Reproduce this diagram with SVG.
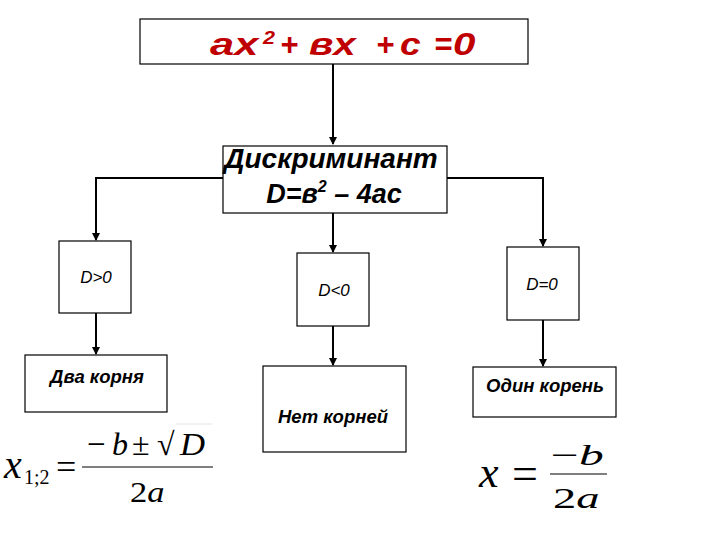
<svg xmlns="http://www.w3.org/2000/svg" width="720" height="540" viewBox="0 0 720 540">
<defs>
<marker id="ah" markerWidth="8" markerHeight="8" refX="7" refY="4" orient="auto" markerUnits="userSpaceOnUse">
<path d="M0,0 L8,4 L0,8 Z" fill="#000"/>
</marker>
<style>
.box{fill:#fff;stroke:#000;stroke-width:1.2}
.lbl{font-family:"Liberation Sans",Arial,sans-serif;font-style:italic;font-weight:bold;fill:#000}
.sm{font-family:"Liberation Sans",Arial,sans-serif;font-style:italic;font-weight:normal;fill:#000;font-size:17px}
.top{font-family:"Liberation Sans",Arial,sans-serif;font-style:italic;font-weight:bold;fill:#c00000;font-size:31px}
.conn{fill:none;stroke:#000;stroke-width:2}
.m{font-family:"Liberation Serif","Times New Roman",serif;fill:#000}
.i{font-style:italic}
</style>
</defs>
<rect width="720" height="540" fill="#fff"/>
<g id="connectors">
<path class="conn" d="M333,64 V144" marker-end="url(#ah)"/>
<path class="conn" d="M223,178 H96 V240" marker-end="url(#ah)"/>
<path class="conn" d="M447,178 H543 V246" marker-end="url(#ah)"/>
<path class="conn" d="M333,213 V252" marker-end="url(#ah)"/>
<path class="conn" d="M96,313 V354" marker-end="url(#ah)"/>
<path class="conn" d="M333,326 V365" marker-end="url(#ah)"/>
<path class="conn" d="M543,320 V366" marker-end="url(#ah)"/>
</g>
<g id="equation">
<rect class="box" x="140" y="19" width="388" height="45"/>
<text class="top" transform="translate(210,55) scale(1.4,1)">ax</text>
<text class="top" transform="translate(263,44) scale(1.2,1)" style="font-size:18px">2</text>
<text class="top" transform="translate(280,55)">+</text>
<text class="top" transform="translate(309,55) scale(1.3,1)">вx</text>
<text class="top" transform="translate(376,55)">+</text>
<text class="top" transform="translate(400,55) scale(1.2,1)">c</text>
<text class="top" transform="translate(434,55)">=</text>
<text class="top" transform="translate(453,55) scale(1.3,1)">0</text>
</g>
<g id="discriminant">
<rect class="box" x="223" y="146" width="224" height="67"/>
<text class="lbl" x="331" y="168" text-anchor="middle" font-size="28">Дискриминант</text>
<text class="lbl" x="334" y="203" text-anchor="middle" font-size="27">D=в<tspan font-size="16" dy="-11">2</tspan><tspan dy="11"> – 4ас</tspan></text>
</g>
<g id="d-positive">
<rect class="box" x="59" y="241" width="72" height="72"/>
<text class="sm" x="96" y="283" text-anchor="middle">D&gt;0</text>
</g>
<g id="d-negative">
<rect class="box" x="297" y="253" width="72" height="73"/>
<text class="sm" x="334" y="296" text-anchor="middle">D&lt;0</text>
</g>
<g id="d-zero">
<rect class="box" x="507" y="247" width="72" height="73"/>
<text class="sm" x="542" y="290" text-anchor="middle">D=0</text>
</g>
<g id="two-roots">
<rect class="box" x="25" y="355" width="142" height="57"/>
<text class="lbl" x="97" y="383" text-anchor="middle" font-size="18.5">Два корня</text>
</g>
<g id="no-roots">
<rect class="box" x="263" y="366" width="143" height="86"/>
<text class="lbl" x="333" y="423" text-anchor="middle" font-size="18.5">Нет корней</text>
</g>
<g id="one-root">
<rect class="box" x="473" y="367" width="143" height="50"/>
<text class="lbl" x="545" y="392" text-anchor="middle" font-size="18.5">Один корень</text>
</g>
<g id="formula-two">
<text class="m i" x="4" y="478" font-size="40">x</text>
<text class="m" x="24" y="484" font-size="20">1;2</text>
<text class="m" x="56" y="479" font-size="36">=</text>
<line x1="82" y1="467" x2="213" y2="467" stroke="#555" stroke-width="1.3"/>
<text class="m" x="87" y="455" font-size="33">−</text>
<text class="m i" x="112" y="455" font-size="32">b</text>
<text class="m" x="132" y="455" font-size="32">±</text>
<text class="m" x="157" y="455" font-size="32" fill="#ccc">√</text>
<line x1="176" y1="424" x2="212" y2="424" stroke="#e4e4e4" stroke-width="1"/>
<text class="m i" transform="translate(180,455) scale(1.12,1)" font-size="31">D</text>
<text class="m" transform="translate(130,502) scale(1.15,1)" font-size="30">2<tspan class="i">a</tspan></text>
</g>
<g id="formula-one">
<text class="m i" x="479" y="487" font-size="44">x</text>
<text class="m" x="512" y="489" font-size="46">=</text>
<line x1="550" y1="474" x2="607" y2="474" stroke="#555" stroke-width="1.3"/>
<text class="m" transform="translate(551,465) scale(1.65,1)" font-size="30">−<tspan class="i">b</tspan></text>
<text class="m" transform="translate(553,508) scale(1.55,1)" font-size="30">2<tspan class="i">a</tspan></text>
</g>
</svg>
